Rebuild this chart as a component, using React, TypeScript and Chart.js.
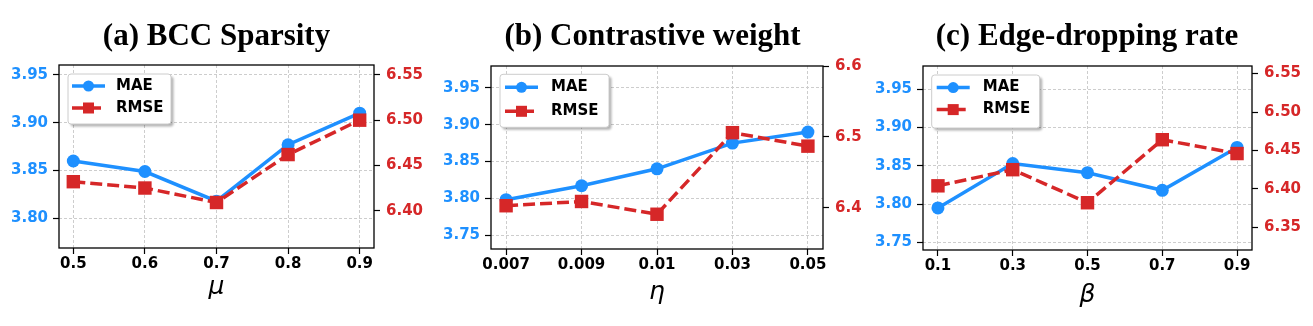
import React, { useEffect, useRef } from 'react';
import { Chart, registerables } from 'chart.js';

Chart.register(...registerables);

// ---------------- Data ----------------
const titleA = '(a) BCC Sparsity';
const titleB = '(b) Contrastive weight';
const titleC = '(c) Edge-dropping rate';

const muLabels = ['0.5', '0.6', '0.7', '0.8', '0.9'];
const maeA = [3.860, 3.849, 3.818, 3.877, 3.910];
const rmseA = [6.432, 6.425, 6.409, 6.462, 6.500];
const maeTicksA = [3.80, 3.85, 3.90, 3.95];
const rmseTicksA = [6.40, 6.45, 6.50, 6.55];

const etaLabels = ['0.007', '0.009', '0.01', '0.03', '0.05'];
const maeB = [3.798, 3.817, 3.840, 3.875, 3.890];
const rmseB = [6.403, 6.409, 6.391, 6.506, 6.487];
const maeTicksB = [3.75, 3.80, 3.85, 3.90, 3.95];
const rmseTicksB = [6.4, 6.5, 6.6];

const betaLabels = ['0.1', '0.3', '0.5', '0.7', '0.9'];
const maeC = [3.795, 3.853, 3.841, 3.818, 3.874];
const rmseC = [6.404, 6.425, 6.382, 6.464, 6.446];
const maeTicksC = [3.75, 3.80, 3.85, 3.90, 3.95];
const rmseTicksC = [6.35, 6.40, 6.45, 6.50, 6.55];

// ---------------- Styling ----------------
const BLUE = '#1E90FF';
const RED = '#D62728';
const H = 326;
const TICK_FONT = { family: '"DejaVu Sans", sans-serif', weight: 'bold' as const, size: 15 };

type PanelCfg = {
  title: string;
  xName: string;
  labels: string[];
  mae: number[];
  rmse: number[];
  maeTicks: number[];
  rmseTicks: number[];
  rmseDec: number;
  maeRange: [number, number];
  rmseRange: [number, number];
  left: number;
  width: number;
  plotLeft: number;
  plotRight: number;
  plotTop: number;
  plotBottom: number;
  xTitlePad: number;
  legend: { dx: number; dy: number; w: number; h: number; rows: number[]; s0: number; s1: number; tx: number };
};

const panels: PanelCfg[] = [
  {
    title: titleA, xName: 'μ', labels: muLabels, mae: maeA, rmse: rmseA,
    maeTicks: maeTicksA, rmseTicks: rmseTicksA, rmseDec: 2,
    maeRange: [3.769, 3.9604], rmseRange: [6.3587, 6.561],
    left: 0, width: 433, plotLeft: 59, plotRight: 374, plotTop: 65, plotBottom: 248,
    xTitlePad: 24,
    legend: { dx: 9, dy: 9, w: 103, h: 50, rows: [12, 34], s0: 4, s1: 37, tx: 48 },
  },
  {
    title: titleB, xName: 'η', labels: etaLabels, mae: maeB, rmse: rmseB,
    maeTicks: maeTicksB, rmseTicks: rmseTicksB, rmseDec: 1,
    maeRange: [3.731, 3.9798], rmseRange: [6.342, 6.6],
    left: 430, width: 445, plotLeft: 491, plotRight: 823, plotTop: 66, plotBottom: 249,
    xTitlePad: 19,
    legend: { dx: 9, dy: 8.3, w: 109, h: 53, rows: [13, 37], s0: 5, s1: 38, tx: 51 },
  },
  {
    title: titleC, xName: 'β', labels: betaLabels, mae: maeC, rmse: rmseC,
    maeTicks: maeTicksC, rmseTicks: rmseTicksC, rmseDec: 2,
    maeRange: [3.740, 3.9804], rmseRange: [6.3205, 6.5599],
    left: 870, width: 434, plotLeft: 923, plotRight: 1252, plotTop: 66, plotBottom: 250,
    xTitlePad: 16,
    legend: { dx: 8.7, dy: 9, w: 108, h: 53, rows: [12.6, 34.6], s0: 5, s1: 38, tx: 51 },
  },
];

function roundRectPath(ctx: CanvasRenderingContext2D, x: number, y: number, w: number, h: number, r: number) {
  ctx.beginPath();
  ctx.moveTo(x + r, y);
  ctx.lineTo(x + w - r, y);
  ctx.arcTo(x + w, y, x + w, y + r, r);
  ctx.lineTo(x + w, y + h - r);
  ctx.arcTo(x + w, y + h, x + w - r, y + h, r);
  ctx.lineTo(x + r, y + h);
  ctx.arcTo(x, y + h, x, y + h - r, r);
  ctx.lineTo(x, y + r);
  ctx.arcTo(x, y, x + r, y, r);
  ctx.closePath();
}

const framePlugin = {
  id: 'frame',
  afterDatasetsDraw(chart: any) {
    const { ctx, chartArea: a } = chart;
    ctx.save();
    ctx.strokeStyle = '#000';
    ctx.lineWidth = 1.3;
    ctx.setLineDash([]);
    ctx.strokeRect(a.left, a.top, a.right - a.left, a.bottom - a.top);
    ctx.restore();
  },
};

const boxLegendPlugin = {
  id: 'boxLegend',
  afterDraw(chart: any, _args: any, opts: any) {
    if (!opts || opts.w === undefined) return;
    const { ctx, chartArea } = chart;
    const x = chartArea.left + opts.dx;
    const y = chartArea.top + opts.dy;
    ctx.save();
    // shadow
    ctx.fillStyle = 'rgba(0,0,0,0.3)';
    ctx.filter = 'blur(0.8px)';
    roundRectPath(ctx, x + 2.5, y + 2.5, opts.w, opts.h, 3);
    ctx.fill();
    ctx.filter = 'none';
    // box
    ctx.fillStyle = '#ffffff';
    roundRectPath(ctx, x, y, opts.w, opts.h, 3);
    ctx.fill();
    ctx.strokeStyle = '#cccccc';
    ctx.lineWidth = 1;
    ctx.stroke();
    // items
    const ds = chart.data.datasets;
    const items = [...ds].sort((p: any, q: any) => p.legendIndex - q.legendIndex);
    items.forEach((d: any, i: number) => {
      const cy = y + opts.rows[i];
      const x0 = x + opts.s0;
      const x1 = x + opts.s1;
      ctx.strokeStyle = d.borderColor;
      ctx.lineWidth = 3.5;
      ctx.setLineDash(d.borderDash || []);
      ctx.beginPath();
      ctx.moveTo(x0, cy);
      ctx.lineTo(x1, cy);
      ctx.stroke();
      ctx.setLineDash([]);
      const mx = (x0 + x1) / 2;
      ctx.fillStyle = d.pointBackgroundColor;
      if (d.pointStyle === 'rect') {
        ctx.fillRect(mx - 5.5, cy - 5.5, 11, 11);
      } else {
        ctx.beginPath();
        ctx.arc(mx, cy, 5.5, 0, Math.PI * 2);
        ctx.fill();
      }
      ctx.fillStyle = '#000';
      ctx.font = 'bold 15px "DejaVu Sans", sans-serif';
      ctx.textBaseline = 'middle';
      ctx.textAlign = 'left';
      ctx.fillText(d.label, x + opts.tx, cy);
    });
    ctx.restore();
  },
};

function PanelChart({ cfg }: { cfg: PanelCfg }) {
  const ref = useRef<HTMLCanvasElement | null>(null);
  useEffect(() => {
    if (!ref.current) return;
    const titleSize = 31;
    const titleLH = 1.2;
    const titleBox = titleSize * titleLH;
    const padTop = 37 - titleBox / 2;
    const padBottom = cfg.plotTop - padTop - titleBox;
    const gridCommon = {
      color: '#cdcdcd',
      lineWidth: 1,
      tickLength: 6,
      tickColor: '#000',
      tickWidth: 1.2,
      tickBorderDash: [],
    };
    const chart = new Chart(ref.current, {
      type: 'line',
      data: {
        datasets: [
          {
            label: 'RMSE',
            legendIndex: 1,
            data: cfg.rmse.map((v, i) => ({ x: i, y: v })),
            yAxisID: 'y1',
            borderColor: RED,
            backgroundColor: RED,
            pointBackgroundColor: RED,
            borderWidth: 3.5,
            borderDash: [12, 5],
            pointStyle: 'rect',
            pointRadius: 9.5,
            pointBorderWidth: 0,
            pointHoverRadius: 9.5,
            tension: 0,
            order: 0,
          } as any,
          {
            label: 'MAE',
            legendIndex: 0,
            data: cfg.mae.map((v, i) => ({ x: i, y: v })),
            yAxisID: 'y',
            borderColor: BLUE,
            backgroundColor: BLUE,
            pointBackgroundColor: BLUE,
            borderWidth: 3.5,
            pointStyle: 'circle',
            pointRadius: 6.5,
            pointBorderWidth: 0,
            pointHoverRadius: 6.5,
            tension: 0,
            order: 1,
          } as any,
        ],
      },
      options: {
        animation: false,
        responsive: false,
        events: [],
        layout: { padding: 0 },
        plugins: {
          legend: { display: false },
          tooltip: { enabled: false },
          title: {
            display: true,
            text: cfg.title,
            color: '#000',
            font: { family: '"Liberation Serif", "Times New Roman", serif', size: titleSize, weight: 'bold', lineHeight: titleLH },
            padding: { top: padTop, bottom: padBottom },
          },
          boxLegend: cfg.legend,
        } as any,
        scales: {
          x: {
            type: 'linear',
            min: -0.2,
            max: cfg.labels.length - 1 + 0.2,
            afterBuildTicks: (s: any) => {
              s.ticks = cfg.labels.map((_, i) => ({ value: i }));
            },
            afterFit: (s: any) => {
              s.height = H - cfg.plotBottom;
            },
            ticks: {
              color: '#000',
              font: TICK_FONT,
              padding: 1,
              maxRotation: 0,
              autoSkip: false,
              callback: (v: any) => cfg.labels[Math.round(Number(v))],
            },
            grid: { ...gridCommon },
            border: { display: false, dash: [3, 2] },
            title: {
              display: true,
              text: cfg.xName,
              color: '#000',
              font: { family: '"DejaVu Sans", sans-serif', style: 'italic', size: 25, lineHeight: 1.2 },
              padding: { top: 0, bottom: cfg.xTitlePad },
            },
          },
          y: {
            type: 'linear',
            position: 'left',
            min: cfg.maeRange[0],
            max: cfg.maeRange[1],
            afterBuildTicks: (s: any) => {
              s.ticks = cfg.maeTicks.map((v) => ({ value: v }));
            },
            afterFit: (s: any) => {
              s.width = cfg.plotLeft - cfg.left;
            },
            ticks: {
              color: BLUE,
              font: TICK_FONT,
              padding: 5,
              callback: (v: any) => Number(v).toFixed(2),
            },
            grid: { ...gridCommon },
            border: { display: false, dash: [3, 2] },
          },
          y1: {
            type: 'linear',
            position: 'right',
            min: cfg.rmseRange[0],
            max: cfg.rmseRange[1],
            afterBuildTicks: (s: any) => {
              s.ticks = cfg.rmseTicks.map((v) => ({ value: v }));
            },
            afterFit: (s: any) => {
              s.width = cfg.left + cfg.width - cfg.plotRight;
            },
            ticks: {
              color: RED,
              font: TICK_FONT,
              padding: 6,
              callback: (v: any) => Number(v).toFixed(cfg.rmseDec),
            },
            grid: { ...gridCommon, drawOnChartArea: false },
            border: { display: false },
          },
        },
      } as any,
      plugins: [framePlugin, boxLegendPlugin],
    });
    return () => chart.destroy();
  }, [cfg]);
  return (
    <div style={{ position: 'absolute', left: cfg.left, top: 0, width: cfg.width, height: H }}>
      <canvas ref={ref} width={cfg.width} height={H} style={{ display: 'block' }} />
    </div>
  );
}

export default function App() {
  return (
    <div style={{ position: 'absolute', left: 0, top: 0, width: 1313, height: H, background: '#fff', overflow: 'hidden' }}>
      {panels.map((p) => (
        <PanelChart key={p.title} cfg={p} />
      ))}
    </div>
  );
}
